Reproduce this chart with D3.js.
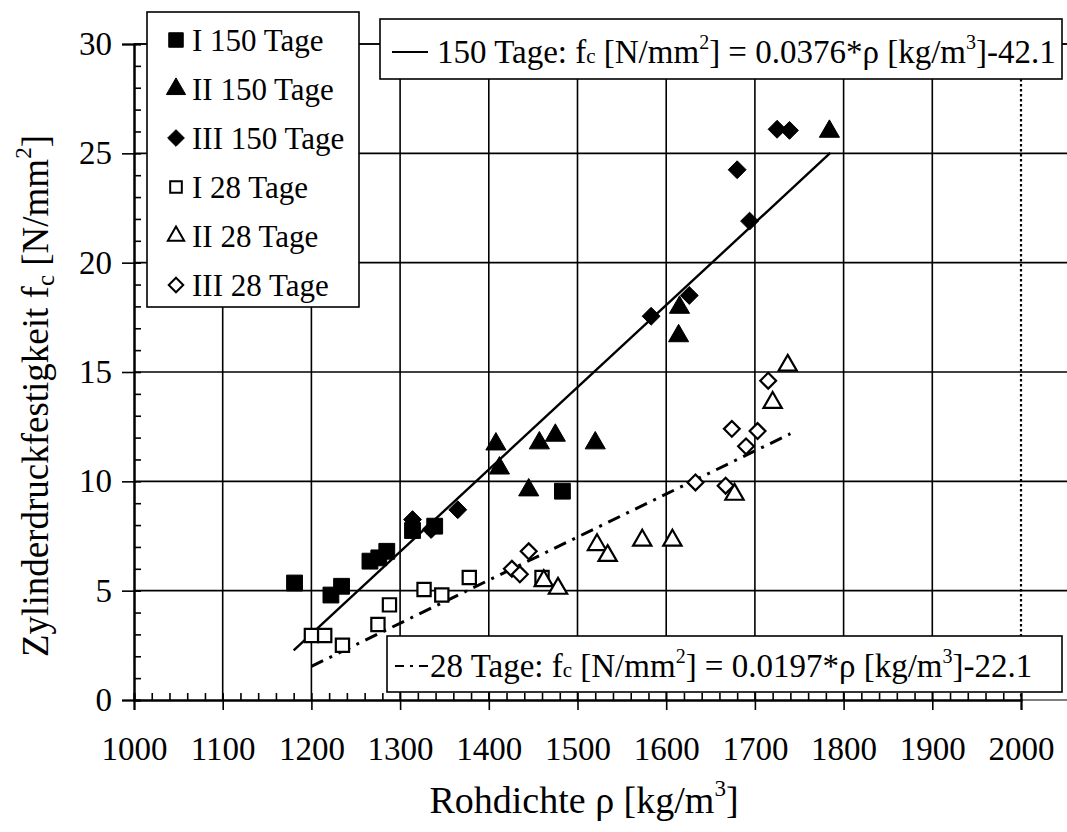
<!DOCTYPE html>
<html>
<head>
<meta charset="utf-8">
<script src="https://cdn.jsdelivr.net/npm/d3@7"></script>
<style>
  html, body { margin: 0; padding: 0; background: #fff; }
  svg { display: block; font-family: "Liberation Serif", "Times New Roman", serif; }
  text { font-family: "Liberation Serif", "Times New Roman", serif; fill: #000; }
</style>
</head>
<body>
<svg id="chart" width="1067" height="832"></svg>
<script>
// Rohdichte [kg/m3] vs. Zylinderdruckfestigkeit [N/mm2]
const xTicks = [1000, 1100, 1200, 1300, 1400, 1500, 1600, 1700, 1800, 1900, 2000];
const yTicks = [0, 5, 10, 15, 20, 25, 30];

// 150 Tage
const rhoI150  = [1181, 1222, 1234, 1266, 1276, 1285, 1314, 1339, 1483];
const fcI150   = [5.35, 4.8, 5.2, 6.35, 6.5, 6.8, 7.75, 7.95, 9.55];
const rhoII150 = [1408, 1412, 1445, 1457, 1475, 1520, 1614, 1615, 1784];
const fcII150  = [11.7, 10.6, 9.6, 11.75, 12.1, 11.75, 16.65, 17.95, 26.0];
const rhoIII150 = [1314, 1335, 1365, 1583, 1626, 1680, 1694, 1725, 1739];
const fcIII150  = [8.25, 7.8, 8.7, 17.55, 18.5, 24.25, 21.9, 26.1, 26.05];

// 28 Tage
const rhoI28  = [1200, 1215, 1235, 1275, 1288, 1327, 1347, 1378, 1460];
const fcI28   = [2.95, 2.95, 2.5, 3.45, 4.35, 5.05, 4.8, 5.6, 5.6];
const rhoII28 = [1462, 1478, 1522, 1534, 1573, 1607, 1677, 1720, 1737];
const fcII28  = [5.45, 5.1, 7.1, 6.6, 7.3, 7.3, 9.4, 13.6, 15.3];
const rhoIII28 = [1426, 1435, 1445, 1633, 1667, 1674, 1690, 1703, 1715];
const fcIII28  = [6.0, 5.75, 6.8, 9.95, 9.8, 12.4, 11.6, 12.3, 14.6];

// Regressionsgeraden fc = a*rho + b
const fit150 = { a: 0.0376, b: -42.1, from: 1180, to: 1785 };
const fit28  = { a: 0.0197, b: -22.1, from: 1200, to: 1740 };

const legendLabels = ["I 150 Tage", "II 150 Tage", "III 150 Tage", "I 28 Tage", "II 28 Tage", "III 28 Tage"];

const svg = d3.select("#chart");
const x = d3.scaleLinear().domain([1000, 2000]).range([134, 1021]);
const y = d3.scaleLinear().domain([0, 30]).range([700, 44]);
const plotRight = 1067;

// Gitter
const grid = svg.append("g").attr("stroke", "#000").attr("stroke-width", 1.6);
grid.selectAll("line.h").data(yTicks.filter(v => v > 0)).join("line")
  .attr("x1", x(1000)).attr("x2", plotRight)
  .attr("y1", d => y(d)).attr("y2", d => y(d));
grid.selectAll("line.v").data(xTicks.filter(v => v > 1000 && v < 2000)).join("line")
  .attr("x1", d => x(d)).attr("x2", d => x(d))
  .attr("y1", y(30)).attr("y2", y(0));
grid.append("line")
  .attr("x1", x(2000)).attr("x2", x(2000)).attr("y1", y(30)).attr("y2", y(0))
  .attr("stroke-width", 2.2).attr("stroke-dasharray", "2.5,2.5");
// untere Begrenzung rechts der Achse
grid.append("line").attr("x1", x(2000)).attr("x2", plotRight).attr("y1", y(0)).attr("y2", y(0)).attr("stroke-width", 1.2);

// Achsen
const yAxis = d3.axisLeft(y).tickValues(yTicks).tickSize(12).tickPadding(10).tickFormat(d3.format("d"));
const yMinor = d3.axisRight(y).tickValues(d3.range(0, 31, 1)).tickSize(7).tickFormat("");
const xAxis = d3.axisBottom(x).tickValues(xTicks).tickSize(10).tickPadding(27).tickFormat(d3.format("d"));
const xMinor = d3.axisTop(x).tickValues(d3.range(1000, 2001, 20)).tickSize(7).tickFormat("");

function styleAxis(g) {
  g.attr("font-family", null).attr("font-size", null);
  g.select(".domain").attr("stroke", "#000").attr("stroke-width", 2);
  g.selectAll(".tick line").attr("stroke", "#000").attr("stroke-width", 1.6);
  g.selectAll(".tick text").attr("font-size", 33).attr("fill", "#000");
}
svg.append("g").attr("transform", `translate(${x(1000)},0)`).call(yMinor).call(styleAxis);
svg.append("g").attr("transform", `translate(${x(1000)},0)`).call(yAxis).call(styleAxis);
svg.append("g").attr("transform", `translate(0,${y(0)})`).call(xMinor).call(styleAxis);
svg.append("g").attr("transform", `translate(0,${y(0)})`).call(xAxis).call(styleAxis);

// obere Rahmenlinie
svg.append("line").attr("x1", x(1000)).attr("x2", plotRight).attr("y1", y(30)).attr("y2", y(30))
  .attr("stroke", "#000").attr("stroke-width", 1.6);

// Regressionsgeraden
const line = d3.line().x(d => x(d[0])).y(d => y(d[1]));
function fitPoints(f) { return [[f.from, f.a * f.from + f.b], [f.to, f.a * f.to + f.b]]; }
svg.append("path").attr("d", line(fitPoints(fit150)))
  .attr("stroke", "#000").attr("stroke-width", 2.4).attr("fill", "none");
svg.append("path").attr("d", line(fitPoints(fit28)))
  .attr("stroke", "#000").attr("stroke-width", 3).attr("fill", "none")
  .attr("stroke-dasharray", "13,7,3,7");

// Messpunkte
const diamond = {
  draw(ctx, size) {
    const r = Math.sqrt(size / 2);
    ctx.moveTo(0, -r); ctx.lineTo(r, 0); ctx.lineTo(0, r); ctx.lineTo(-r, 0); ctx.closePath();
  }
};
const series = [
  { rho: rhoI150,  fc: fcI150,  type: d3.symbolSquare,   size: 250, filled: true },
  { rho: rhoII150, fc: fcII150, type: d3.symbolTriangle, size: 175, filled: true },
  { rho: rhoIII150, fc: fcIII150, type: diamond,         size: 160, filled: true },
  { rho: rhoI28,  fc: fcI28,  type: d3.symbolSquare,   size: 175, filled: false },
  { rho: rhoII28, fc: fcII28, type: d3.symbolTriangle, size: 145, filled: false },
  { rho: rhoIII28, fc: fcIII28, type: diamond,         size: 125, filled: false }
];
series.forEach(s => {
  const pts = s.rho.map((r, i) => [r, s.fc[i]]);
  svg.append("g").selectAll("path").data(pts).join("path")
    .attr("transform", d => `translate(${x(d[0])},${y(d[1])})`)
    .attr("d", d3.symbol().type(s.type).size(s.size))
    .attr("fill", s.filled ? "#000" : "#fff")
    .attr("stroke", "#000")
    .attr("stroke-width", s.filled ? 1 : 2.2);
});

// Legende
const leg = svg.append("g");
leg.append("rect").attr("x", 147).attr("y", 12).attr("width", 212).attr("height", 295)
  .attr("fill", "#fff").attr("stroke", "#000").attr("stroke-width", 1.6);
const legSize = [210, 160, 140, 135, 115, 105];
series.forEach((s, i) => {
  const cy = 40 + i * 49;
  leg.append("path").attr("transform", `translate(176,${cy})`)
    .attr("d", d3.symbol().type(s.type).size(legSize[i]))
    .attr("fill", s.filled ? "#000" : "#fff").attr("stroke", "#000").attr("stroke-width", s.filled ? 1 : 2);
  leg.append("text").attr("x", 192).attr("y", cy + 11).attr("font-size", 31).text(legendLabels[i]);
});

// Gleichungen
function equation(g, bx, by, bw, bh, tx, ty, lead, rest) {
  g.append("rect").attr("x", bx).attr("y", by).attr("width", bw).attr("height", bh)
    .attr("fill", "#fff").attr("stroke", "#000").attr("stroke-width", 1.6);
  const t = g.append("text").attr("x", tx).attr("y", ty).attr("font-size", 33);
  t.append("tspan").text(lead + "f");
  t.append("tspan").attr("font-size", 21).text("c");
  t.append("tspan").text(" [N/mm");
  t.append("tspan").attr("font-size", 20).attr("dy", -14).text("2");
  t.append("tspan").attr("dy", 14).text("] = " + rest[0] + "*ρ [kg/m");
  t.append("tspan").attr("font-size", 20).attr("dy", -14).text("3");
  t.append("tspan").attr("dy", 14).text("]" + rest[1]);
}
const eqTop = svg.append("g");
equation(eqTop, 380, 19, 682, 60, 437, 63, "150 Tage: ", ["0.0376", "-42.1"]);
eqTop.append("line").attr("x1", 392).attr("x2", 428).attr("y1", 52).attr("y2", 52)
  .attr("stroke", "#000").attr("stroke-width", 2);

const eqBot = svg.append("g");
equation(eqBot, 387, 636, 675, 56, 430, 677, "28 Tage: ", ["0.0197", "-22.1"]);
eqBot.append("line").attr("x1", 395).attr("x2", 430).attr("y1", 666).attr("y2", 666)
  .attr("stroke", "#000").attr("stroke-width", 2.2).attr("stroke-dasharray", "9,6,3,6");

// Achsentitel
const xt = svg.append("text").attr("x", 584).attr("y", 813).attr("text-anchor", "middle").attr("font-size", 38);
xt.append("tspan").text("Rohdichte ρ [kg/m");
xt.append("tspan").attr("font-size", 23).attr("dy", -17).text("3");
xt.append("tspan").attr("dy", 17).text("]");

const yt = svg.append("text").attr("transform", "translate(48,396) rotate(-90)")
  .attr("text-anchor", "middle").attr("font-size", 37);
yt.append("tspan").text("Zylinderdruckfestigkeit f");
yt.append("tspan").attr("font-size", 25).attr("dy", 6).text("c");
yt.append("tspan").attr("dy", -6).text(" [N/mm");
yt.append("tspan").attr("font-size", 23).attr("dy", -17).text("2");
yt.append("tspan").attr("dy", 17).text("]");
</script>
</body>
</html>
